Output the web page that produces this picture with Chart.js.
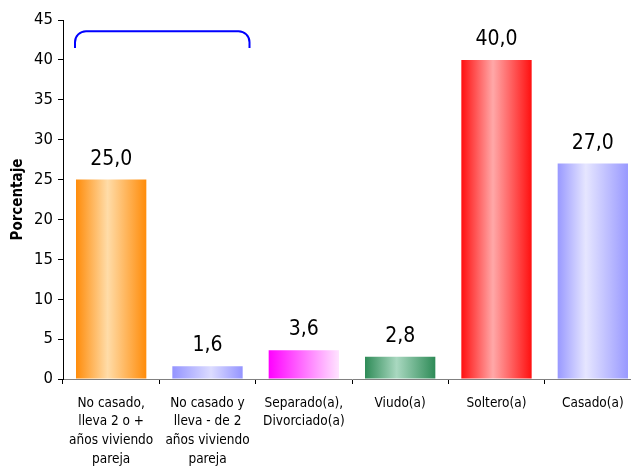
<!DOCTYPE html>
<html>
<head>
<meta charset="utf-8">
<script src="https://cdn.jsdelivr.net/npm/chart.js@4"></script>
<style>
  html, body { margin: 0; padding: 0; background: #fff; overflow: hidden; }
  #chart { display: block; }
</style>
</head>
<body>
<canvas id="chart" width="642" height="466"></canvas>
<script>
// categories and values
const categories = [
  ["No casado,", "lleva 2 o +", "años viviendo", "pareja"],
  ["No casado y", "lleva - de 2", "años viviendo", "pareja"],
  ["Separado(a),", "Divorciado(a)"],
  ["Viudo(a)"],
  ["Soltero(a)"],
  ["Casado(a)"]
];
const porcentajes = [25.0, 1.6, 3.6, 2.8, 40.0, 27.0];
const yTicks = [0, 5, 10, 15, 20, 25, 30, 35, 40, 45];

// gradient stops per bar: [edge-left, light, edge-right]
const barStops = [
  [[0, "#ff8c0a"], [0.45, "#ffdca8"], [1, "#ff8c0a"]],
  [[0, "#9494ff"], [0.55, "#dcdcff"], [1, "#9494ff"]],
  [[0, "#ff00ff"], [1, "#ffe4ff"]],
  [[0, "#2e8b57"], [0.45, "#a9d8c0"], [1, "#2e8b57"]],
  [[0, "#ff1010"], [0.45, "#ffa8a8"], [1, "#ff1010"]],
  [[0, "#9999ff"], [0.4, "#e6e6ff"], [1, "#9999ff"]]
];

const FONT = "'DejaVu Sans Condensed', 'DejaVu Sans', sans-serif";
const BAR_PCT = 0.73;

function barFill(ctx) {
  const chart = ctx.chart;
  const xs = chart.scales.x;
  const stops = barStops[ctx.dataIndex];
  if (!xs || xs.width === undefined) return stops[0][1];
  const cx = xs.getPixelForValue(ctx.dataIndex);
  const half = (xs.width / categories.length) * BAR_PCT / 2;
  const g = chart.ctx.createLinearGradient(cx - half, 0, cx + half, 0);
  stops.forEach(s => g.addColorStop(s[0], s[1]));
  return g;
}

const valueLabels = {
  id: "valueLabels",
  afterDatasetsDraw(chart) {
    const c = chart.ctx;
    const meta = chart.getDatasetMeta(0);
    c.save();
    c.font = "21px " + FONT;
    c.fillStyle = "#000";
    c.textAlign = "center";
    c.textBaseline = "bottom";
    meta.data.forEach((bar, i) => {
      c.fillText(porcentajes[i].toFixed(1).replace(".", ","), bar.x, bar.y - 10);
    });
    c.restore();
  }
};

// blue bracket over the first two categories
const bracket = {
  id: "bracket",
  afterDraw(chart) {
    const xs = chart.scales.x, ys = chart.scales.y;
    const c = chart.ctx;
    const l = xs.left + 12;
    const r = xs.getPixelForValue(1) + 42;
    const top = ys.getPixelForValue(43.6);
    const bot = ys.getPixelForValue(41.5);
    const rad = 11;
    c.save();
    c.strokeStyle = "#0000ff";
    c.lineWidth = 2;
    c.beginPath();
    c.moveTo(l, bot);
    c.arcTo(l, top, l + rad, top, rad);
    c.lineTo(r - rad, top);
    c.arcTo(r, top, r, bot, rad);
    c.lineTo(r, bot);
    c.stroke();
    c.restore();
  }
};

new Chart(document.getElementById("chart"), {
  type: "bar",
  data: {
    labels: categories,
    datasets: [{
      data: porcentajes,
      backgroundColor: barFill,
      borderWidth: 0,
      categoryPercentage: 1,
      barPercentage: BAR_PCT
    }]
  },
  options: {
    responsive: false,
    animation: false,
    devicePixelRatio: 1,
    layout: { padding: { top: 20, right: 1, left: 0, bottom: 0 } },
    plugins: { legend: { display: false }, tooltip: { enabled: false } },
    scales: {
      x: {
        offset: true,
        grid: {
          offset: true,
          drawOnChartArea: false,
          drawTicks: true,
          tickLength: 5,
          color: "#000"
        },
        border: { color: "#808080", width: 1 },
        ticks: {
          color: "#000",
          font: { family: FONT, size: 13.5, lineHeight: 1.38 },
          padding: 10,
          maxRotation: 0,
          autoSkip: false
        },
        afterFit(s) { s.height = 87; }
      },
      y: {
        min: 0,
        max: 45,
        afterBuildTicks(s) { s.ticks = yTicks.map(v => ({ value: v })); },
        grid: {
          drawOnChartArea: false,
          drawTicks: true,
          tickLength: 5,
          color: "#000"
        },
        border: { color: "#000", width: 1 },
        ticks: {
          color: "#000",
          font: { family: FONT, size: 16.5 },
          padding: 5
        },
        title: {
          display: true,
          text: "Porcentaje",
          color: "#000",
          font: { family: FONT, size: 15, weight: "bold" },
          padding: { top: 9, bottom: 0 }
        },
        afterFit(s) { s.width = 63; }
      }
    }
  },
  plugins: [valueLabels, bracket]
});
</script>
</body>
</html>
